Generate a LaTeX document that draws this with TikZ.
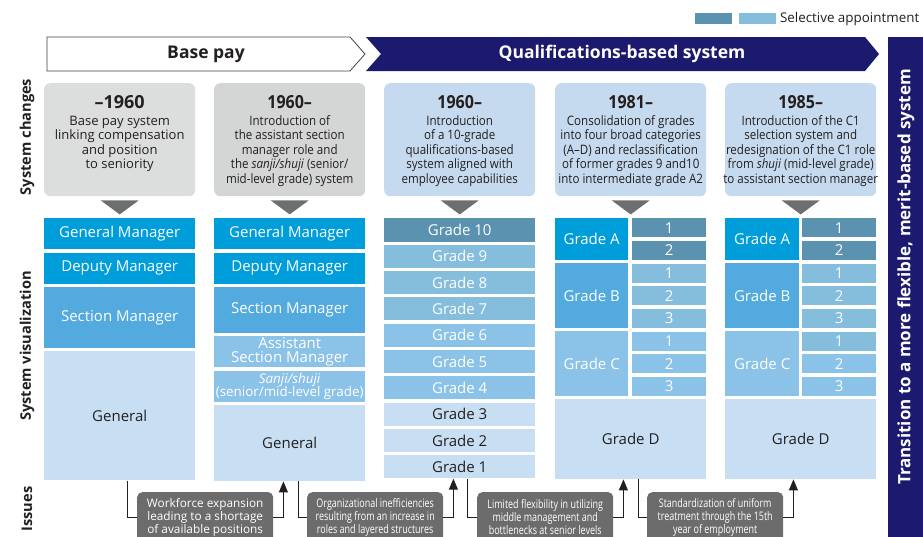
\documentclass[tikz,border=0pt]{standalone}
\usepackage{fontspec}
\setmainfont{Open Sans}
\newfontfamily\narrowfont{Open Sans}[Ligatures=TeX, FakeStretch=0.89]
\newfontfamily\condfont{Open Sans}[Ligatures=TeX, FakeStretch=0.76]
\usetikzlibrary{arrows.meta,positioning}

\definecolor{navy}{HTML}{1B1A6E}
\definecolor{ink}{HTML}{231F20}
\definecolor{topblue}{HTML}{009DDB}
\definecolor{midblue}{HTML}{52AADF}
\definecolor{softblue}{HTML}{8AC2E8}
\definecolor{paleblue}{HTML}{C8DFF3}
\definecolor{seldark}{HTML}{5A92AF}
\definecolor{sellight}{HTML}{84BEDC}
\definecolor{cardgray}{HTML}{DCDDDD}
\definecolor{cardgrayb}{HTML}{D4D5D5}
\definecolor{cardblue}{HTML}{C6DAEF}
\definecolor{issuegray}{HTML}{6C6C6C}
\definecolor{arrowgray}{HTML}{6D6E70}

\tikzset{
    tier/.style={rectangle, inner sep=0pt, anchor=north west, text=white,
        align=center, font=\fontsize{15}{15}\selectfont},
    card/.style={rectangle, rounded corners=6pt, inner sep=0pt, anchor=north west,
        minimum width=151pt, minimum height=113pt},
    cardtext/.style={inner sep=0pt, align=center, text=ink},
    issue/.style={rectangle, rounded corners=5pt, fill=issuegray, text=white, inner sep=0pt,
        anchor=north west, minimum width=136pt, minimum height=50pt, align=center},
    link/.style={draw=ink, line width=0.9pt},
    rowlabel/.style={rotate=90, inner sep=0pt, text=ink, font=\fontsize{14.6}{14.6}\selectfont\bfseries},
    swatch/.style={rectangle, inner sep=0pt, anchor=north west, minimum width=37pt, minimum height=11pt}
}

\newcommand{\yearline}[1]{{\fontsize{18}{18}\selectfont\bfseries #1}\\[2.9pt]}

\begin{document}
\begin{tikzpicture}[x=1pt, y=-1pt]
        \useasboundingbox (0,0) rectangle (923,536);
        \clip (0,0) rectangle (923,536);

        % legend
        \node[swatch, fill=seldark] (keydark) at (695,13) {};
        \node[swatch, fill=sellight, right=6pt of keydark] (keylight) {};
        \node[right=4pt of keylight, inner sep=0pt, text=ink, font=\fontsize{13.4}{13.4}\selectfont] (keytext) {Selective appointment};

        % period headers
        \draw[draw=ink!85, line width=0.8pt, fill=white] (47,37) -- (350,37) -- (365,54) -- (350,71) -- (47,71) -- cycle;
        \node[text=ink, font=\fontsize{17.5}{17.5}\selectfont\bfseries] (basepay) at (206,54) {Base pay};
        \fill[navy] (366,37) -- (865,37) -- (879,54) -- (865,71) -- (366,71) -- (381,54) -- cycle;
        \node[text=white, font=\fontsize{17.5}{17.5}\selectfont\bfseries] (qualsys) at (622,54) {Qualifications-based system};

        \fill[navy] (888,37) rectangle (923,540);
        \node[rotate=90, text=white, font=\fontsize{17}{17}\selectfont\bfseries] (transition) at (906,277)
            {Transition to a more flexible, merit-based system};

        % row labels
        \node[rowlabel] (lblchanges) at (27,137) {System changes};
        \node[rowlabel] (lblvisual) at (27,346) {System visualization};
        \node[rowlabel] (lblissues) at (27,509) {Issues};

        % system changes
        \node[card, fill=cardgray] (c1) at (44,83) {};
        \node[card, fill=cardgrayb] (c2) at (214,83) {};
        \node[card, fill=cardblue] (c3) at (384,83) {};
        \node[card, fill=cardblue] (c4) at (555,83) {};
        \node[card, fill=cardblue] (c5) at (725,83) {};

        \node[cardtext, below=12pt of c1.north, font=\fontsize{13}{14.4}\selectfont] (c1t) {\yearline{–1960}
            Base pay system\\linking compensation\\and position\\to seniority};
        \node[cardtext, below=12pt of c2.north, font=\narrowfont\fontsize{13}{14.4}\selectfont] (c2t) {\yearline{1960–}
            Introduction of\\the assistant section\\manager role and\\the \textit{sanji/shuji} (senior/\\mid-level grade) system};
        \node[cardtext, below=12pt of c3.north, font=\narrowfont\fontsize{13}{14.4}\selectfont] (c3t) {\yearline{1960–}
            Introduction\\of a 10-grade\\qualifications-based\\system aligned with\\employee capabilities};
        \node[cardtext, below=12pt of c4.north, font=\narrowfont\fontsize{13}{14.4}\selectfont] (c4t) {\yearline{1981–}
            Consolidation of grades\\into four broad categories\\(A–D) and reclassification\\of former grades 9 and10\\into intermediate grade A2};
        \node[cardtext, below=12pt of c5.north, font=\narrowfont\fontsize{13}{14.4}\selectfont] (c5t) {\yearline{1985–}
            Introduction of the C1\\selection system and\\redesignation of the C1 role\\from \textit{shuji} (mid-level grade)\\to assistant section manager};

        \foreach \k in {1,...,5}
            \fill[arrowgray] ([xshift=-19pt,yshift=-4pt]c\k.south) -- ++(38,0) -- ++(-19,14) -- cycle;

        % positions before 1960
        \node[tier, fill=topblue, minimum width=151pt, minimum height=31pt] (gm1) at (44,218) {General Manager};
        \node[tier, fill=topblue, minimum width=151pt, minimum height=31pt, below=3pt of gm1] (dm1) {Deputy Manager};
        \node[tier, fill=midblue, minimum width=151pt, minimum height=61pt, below=3pt of dm1] (sm1) {Section Manager};
        \node[tier, fill=paleblue, text=ink, minimum width=151pt, minimum height=129pt, below=3pt of sm1] (gen1) {General};

        % positions from 1960
        \node[tier, fill=topblue, minimum width=151pt, minimum height=31pt] (gm2) at (214,218) {General Manager};
        \node[tier, fill=topblue, minimum width=151pt, minimum height=31pt, below=3pt of gm2] (dm2) {Deputy Manager};
        \node[tier, fill=midblue, minimum width=151pt, minimum height=46pt, below=3pt of dm2] (sm2) {Section Manager};
        \node[tier, fill=softblue, minimum width=151pt, minimum height=31pt, below=3pt of sm2] (asm2) {Assistant\\[-1pt]Section Manager};
        \node[tier, fill=softblue, minimum width=151pt, minimum height=31pt, below=3pt of asm2,
            font=\fontsize{13.4}{13.4}\selectfont] (sj2) {\textit{Sanji/shuji}\\(senior/mid-level grade)};
        \node[tier, fill=paleblue, text=ink, minimum width=151pt, minimum height=76pt, below=3pt of sj2] (gen2) {General};

        % ten grades
        \foreach \gr/\fc/\tc [count=\i from 0] in {10/seldark/white, 9/sellight/white, 8/sellight/white,
                7/sellight/white, 6/softblue/white, 5/softblue/white, 4/softblue/white,
                3/paleblue/ink, 2/paleblue/ink, 1/paleblue/ink}
            \node[tier, fill=\fc, text=\tc, minimum width=151pt, minimum height=23.3pt] (g\gr) at (384,{218+26.33*\i}) {Grade \gr};

        % grades A to D, 1981
        \node[tier, fill=topblue, minimum width=73pt, minimum height=42pt] (ga4) at (555,218) {Grade A};
        \node[tier, fill=midblue, minimum width=73pt, minimum height=65pt] (gb4) at (555,263) {Grade B};
        \node[tier, fill=softblue, minimum width=73pt, minimum height=65pt] (gc4) at (555,331) {Grade C};
        \node[tier, fill=paleblue, text=ink, minimum width=151pt, minimum height=80pt] (gd4) at (555,399) {Grade D};
        \foreach \gr/\fc [count=\i from 0] in {1/seldark, 2/seldark, 1/sellight, 2/sellight, 3/sellight,
                1/softblue, 2/softblue, 3/softblue}
            \node[tier, fill=\fc, minimum width=74pt, minimum height=19pt] (s4-\i) at (632,{218+22.7*\i}) {\gr};

        % grades A to D, 1985
        \node[tier, fill=topblue, minimum width=74pt, minimum height=42pt] (ga5) at (725,218) {Grade A};
        \node[tier, fill=midblue, minimum width=74pt, minimum height=65pt] (gb5) at (725,263) {Grade B};
        \node[tier, fill=softblue, minimum width=74pt, minimum height=65pt] (gc5) at (725,331) {Grade C};
        \node[tier, fill=paleblue, text=ink, minimum width=151pt, minimum height=80pt] (gd5) at (725,399) {Grade D};
        \foreach \gr/\fc [count=\i from 0] in {1/seldark, 2/seldark, 1/sellight, 2/sellight, 3/sellight,
                1/sellight, 2/softblue, 3/softblue}
            \node[tier, fill=\fc, minimum width=74pt, minimum height=19pt] (s5-\i) at (802,{218+22.7*\i}) {\gr};

        % issues
        \node[issue, font=\fontsize{11.8}{12.8}\selectfont] (iss1) at (137,492)
            {Workforce expansion\\leading to a shortage\\of available positions};
        \node[issue, font=\condfont\fontsize{11.8}{12.8}\selectfont] (iss2) at (307,492)
            {Organizational inefficiencies\\resulting from an increase in\\roles and layered structures};
        \node[issue, font=\condfont\fontsize{11.8}{12.8}\selectfont] (iss3) at (477,492)
            {Limited flexibility in utilizing\\middle management and\\bottlenecks at senior levels};
        \node[issue, font=\condfont\fontsize{11.8}{12.8}\selectfont] (iss4) at (647,492)
            {Standardization of uniform\\treatment through the 15th\\year of employment};

        \draw[link] (gen1.south -| iss1.west) ++(-10,0) |- (iss1.west);
        \draw[link] (gen2.south -| iss2.west) ++(-9,0) |- (iss2.west);
        \draw[link] (g1.south -| iss3.west) ++(-10,0) |- (iss3.west);
        \draw[link] (gd4.south -| iss4.west) ++(-9,0) |- (iss4.west);

        \draw[link, -{Triangle[width=9pt,length=11pt]}] (iss1.east) -| ([xshift=10pt]iss1.east |- gen2.south);
        \draw[link, -{Triangle[width=9pt,length=11pt]}] (iss2.east) -| ([xshift=10pt]iss2.east |- g1.south);
        \draw[link, -{Triangle[width=9pt,length=11pt]}] (iss3.east) -| ([xshift=10pt]iss3.east |- gd4.south);
        \draw[link, -{Triangle[width=9pt,length=11pt]}] (iss4.east) -| ([xshift=10pt]iss4.east |- gd5.south);
    \end{tikzpicture}
\end{document}
